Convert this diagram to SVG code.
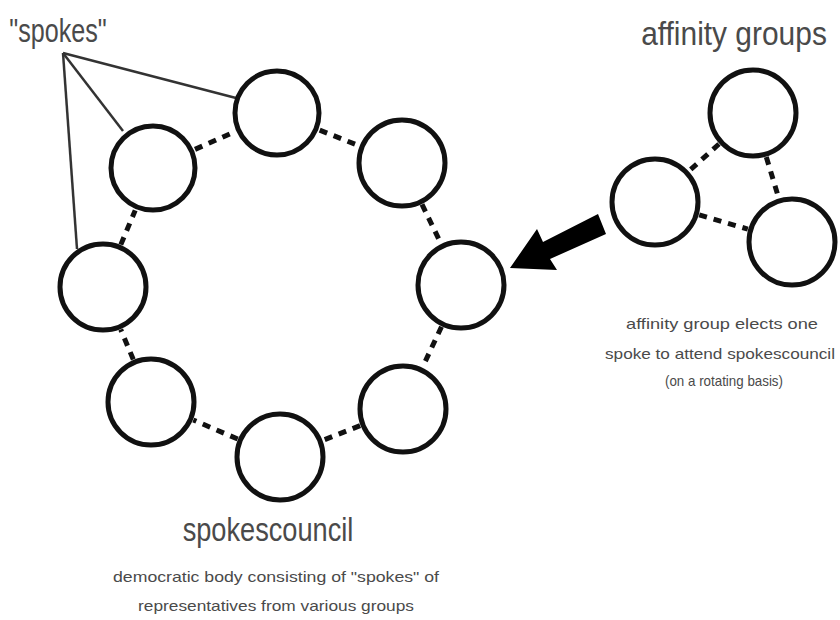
<svg xmlns="http://www.w3.org/2000/svg" width="840" height="620" viewBox="0 0 840 620">
<style>
.node circle{fill:#fff;stroke:#111;stroke-width:5}
.dash{stroke:#111;stroke-width:5;stroke-dasharray:8 7;fill:none}
.spoke{stroke:#333;stroke-width:2.5;fill:none}
text{font-family:"Liberation Sans",Arial,sans-serif;fill:#4a4a4a;text-anchor:middle}
.big{font-size:34px}
.small{font-size:15px}
</style>
<rect width="840" height="620" fill="#fff"/>
<g id="connectors">
<line class="spoke" x1="63" y1="53" x2="236" y2="98"/>
<line class="spoke" x1="63" y1="53" x2="123" y2="131"/>
<line class="spoke" x1="63" y1="53" x2="77" y2="249"/>
<line class="dash" x1="319.7" y1="130.1" x2="359.3" y2="145.9"/>
<line class="dash" x1="422" y1="204.4" x2="441" y2="243.6"/>
<line class="dash" x1="441.5" y1="326.7" x2="422.5" y2="367.3"/>
<line class="dash" x1="360.1" y1="425.7" x2="322.9" y2="440.3"/>
<line class="dash" x1="237.7" y1="439" x2="193.3" y2="420"/>
<line class="dash" x1="133.3" y1="359.5" x2="120.7" y2="329.5"/>
<line class="dash" x1="120.8" y1="244.6" x2="135.2" y2="210.4"/>
<line class="dash" x1="195" y1="149.4" x2="235" y2="131.6"/>
<line class="dash" x1="719" y1="144" x2="689" y2="171"/>
<line class="dash" x1="766.3" y1="157" x2="778.7" y2="198"/>
<line class="dash" x1="699.2" y1="214.9" x2="747.8" y2="229.1"/>
<polygon id="arrow" fill="#000" points="510,268 537,229 543,242 598,214 606,234 550,259 557,270"/>
</g>
<g id="n1" class="node"><circle cx="277" cy="113" r="42"/></g>
<g id="n2" class="node"><circle cx="402" cy="163" r="43"/></g>
<g id="n3" class="node"><circle cx="461" cy="285" r="43"/></g>
<g id="n4" class="node"><circle cx="403" cy="409" r="43"/></g>
<g id="n5" class="node"><circle cx="280" cy="457" r="43"/></g>
<g id="n6" class="node"><circle cx="151" cy="402" r="43"/></g>
<g id="n7" class="node"><circle cx="103" cy="287" r="43"/></g>
<g id="n8" class="node"><circle cx="153" cy="168" r="42"/></g>
<g id="a1" class="node"><circle cx="753" cy="113" r="43"/></g>
<g id="a2" class="node"><circle cx="655" cy="202" r="43"/></g>
<g id="a3" class="node"><circle cx="792" cy="242" r="43"/></g>
<g id="labels">
<text class="big" transform="translate(58,42) scale(0.74,1)">"spokes"</text>
<text class="big" transform="translate(734,45) scale(0.88,1)">affinity groups</text>
<text class="big" transform="translate(268,541) scale(0.8,1)">spokescouncil</text>
<text class="small" x="276" y="582" textLength="326" lengthAdjust="spacingAndGlyphs">democratic body consisting of "spokes" of</text>
<text class="small" x="276" y="611" textLength="276" lengthAdjust="spacingAndGlyphs">representatives from various groups</text>
<text class="small" x="722" y="329" textLength="192" lengthAdjust="spacingAndGlyphs">affinity group elects one</text>
<text class="small" x="720" y="359" textLength="230" lengthAdjust="spacingAndGlyphs">spoke to attend spokescouncil</text>
<text class="small" x="724" y="386" textLength="118" lengthAdjust="spacingAndGlyphs">(on a rotating basis)</text>
</g>
</svg>
